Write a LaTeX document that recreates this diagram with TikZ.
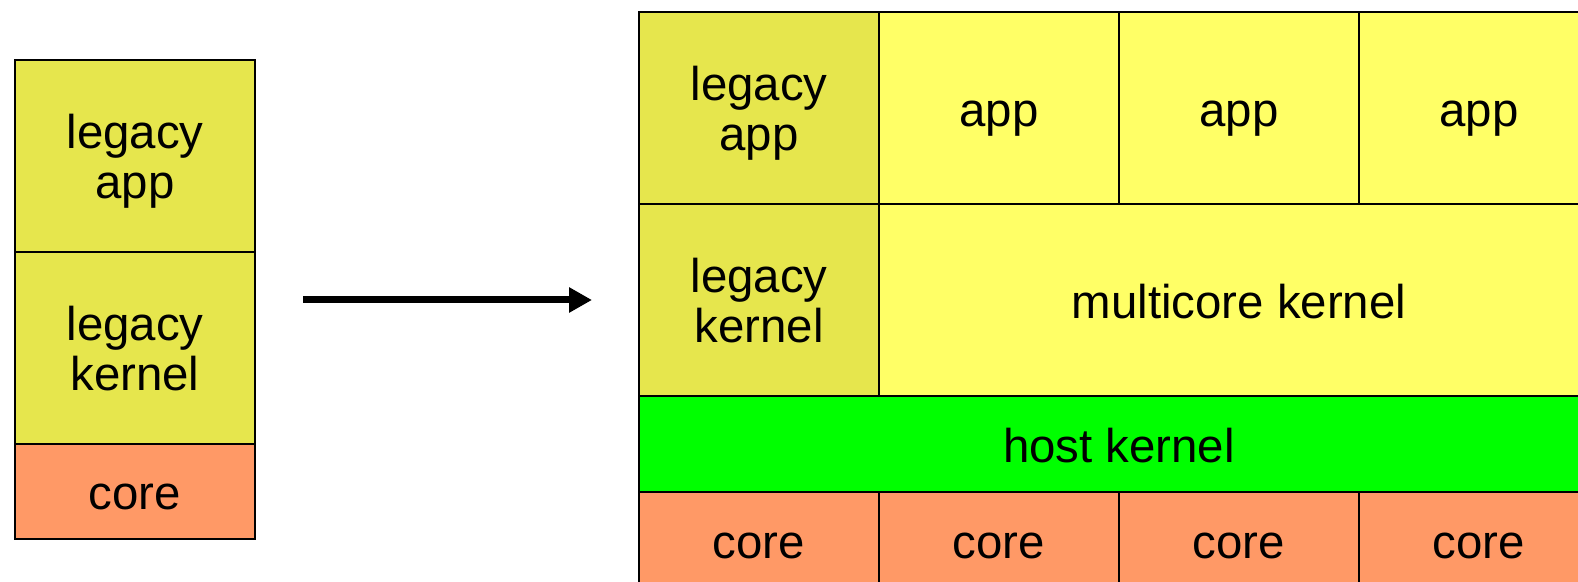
\documentclass[tikz,border=0pt]{standalone}
\usepackage{fontspec}
\setmainfont{Liberation Sans}
\usetikzlibrary{arrows.meta}

\definecolor{legacyyellow}{HTML}{E6E64D}
\definecolor{appyellow}{HTML}{FFFF66}
\definecolor{hostgreen}{HTML}{00FF00}
\definecolor{coreorange}{HTML}{FF9966}

\newcommand{\twolines}[2]{\raisebox{-3.8pt}[\height][\depth]{\begin{tabular}{@{}c@{}}#1\\#2\end{tabular}}}

\begin{document}
\begin{tikzpicture}[x=0.5pt, y=-0.5pt]
\tikzstyle{layer}=[draw, line width=1pt, rectangle, inner sep=0pt, minimum width=120pt, minimum height=96pt, font=\fontsize{23.7}{24.6}\selectfont]
\tikzstyle{oneline}=[layer, text height=22pt, text depth=3.7pt]
\tikzstyle{legacy}=[layer, fill=legacyyellow]
\tikzstyle{app}=[oneline, fill=appyellow]
\tikzstyle{core}=[oneline, fill=coreorange, minimum height=48pt]
    \useasboundingbox (0,0) rectangle (1578,582);
    \clip (0,0) rectangle (1578,582);
    \node[legacy] (la) at (135,156) {\twolines{legacy}{app}};
    \node[legacy] (lk) at (135,348) {\twolines{legacy}{kernel}};
    \node[core, minimum height=47.5pt] (lc) at (135,491.5) {core};
    \coordinate (from) at (303,300);
    \coordinate (to) at (592,300);
    \draw [line width=3.5pt, -{Triangle[length=11.5pt, width=12pt]}] (from) -- (to);
    \node[legacy] (rla) at (759,108) {\twolines{legacy}{app}};
    \node[app] (app1) at (999,108) {app};
    \node[app] (app2) at (1239,108) {app};
    \node[app] (app3) at (1479,108) {app};
    \node[legacy] (rlk) at (759,300) {\twolines{legacy}{kernel}};
    \node[app, minimum width=360pt] (mk) at (1239,300) {multicore kernel};
    \node[oneline, fill=hostgreen, minimum width=480pt, minimum height=48pt] (hk) at (1119,444) {host kernel};
    \node[core] (c1) at (759,540) {core};
    \node[core] (c2) at (999,540) {core};
    \node[core] (c3) at (1239,540) {core};
    \node[core] (c4) at (1479,540) {core};
\end{tikzpicture}
\end{document}
